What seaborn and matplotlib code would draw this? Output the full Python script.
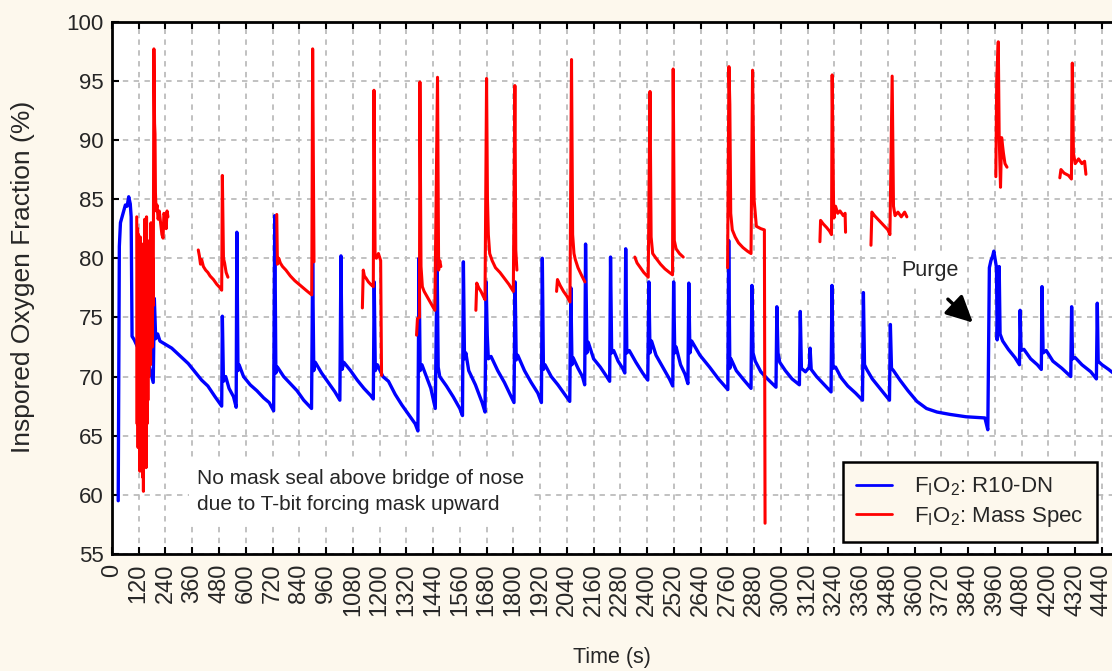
import numpy as np
import pandas as pd
import matplotlib.pyplot as plt
import seaborn as sns
from matplotlib.lines import Line2D

# R10-DN sensor (blue), time in s and FiO2 in %
blue_t = [28, 33, 38, 50, 60, 68, 75, 82, 86, 90, 100, 112, 125, 140, 165, 185, 190, 196, 205, 215,
          268, 342, 402, 430, 462, 492, 495, 500, 510, 525, 545, 557, 560, 565, 570, 590, 620, 650,
          680, 705, 725, 730, 735, 742, 770, 800, 830, 860, 895, 900, 905, 912, 940, 970, 1000,
          1022, 1027, 1032, 1040, 1070, 1100, 1130, 1160, 1172, 1176, 1181, 1190, 1215, 1240,
          1270, 1300, 1330, 1360, 1372, 1377, 1382, 1390, 1410, 1430, 1450, 1458, 1463, 1470,
          1500, 1530, 1560, 1572, 1576, 1581, 1587, 1600, 1630, 1660, 1673, 1678, 1683, 1688,
          1700, 1730, 1760, 1790, 1803, 1808, 1813, 1820, 1850, 1880, 1910, 1926, 1930, 1935,
          1942, 1970, 2000, 2030, 2053, 2058, 2063, 2068, 2090, 2110, 2120, 2124, 2130, 2136,
          2160, 2190, 2215, 2232, 2236, 2241, 2250, 2270, 2290, 2300, 2304, 2309, 2320, 2350,
          2380, 2403, 2408, 2413, 2420, 2440, 2470, 2500, 2515, 2519, 2524, 2530, 2550, 2570,
          2583, 2587, 2592, 2600, 2637, 2680, 2720, 2762, 2766, 2771, 2776, 2800, 2830, 2866,
          2870, 2875, 2885, 2910, 2940, 2978, 2982, 2987, 2995, 3020, 3050, 3083, 3087, 3092,
          3110, 3128, 3131, 3136, 3160, 3190, 3225, 3229, 3234, 3245, 3270, 3300, 3335, 3366,
          3370, 3375, 3385, 3410, 3440, 3470, 3487, 3491, 3496, 3505, 3534, 3570, 3610, 3653,
          3700, 3758, 3830, 3915, 3928, 3935, 3942, 3950, 3955, 3967, 3970, 3979, 3983, 3995,
          4020, 4050, 4070, 4073, 4077, 4090, 4120, 4150, 4168, 4171, 4176, 4190, 4220, 4260,
          4300, 4304, 4308, 4320, 4350, 4390, 4415, 4419, 4423, 4440, 4470, 4490]
blue_v = [59.5, 81.0, 83.0, 83.8, 84.5, 84.4, 85.2, 84.6, 83.5, 73.4, 73.1, 72.6, 72.3, 72.0, 71.0, 69.5, 76.6, 73.2, 73.6, 73.0,
          72.4, 71.1, 69.7, 69.2, 68.3, 67.5, 75.1, 69.6, 70.0, 69.0, 68.3, 67.4, 82.2, 70.5, 71.0, 70.0, 69.3, 68.8,
          68.2, 67.8, 67.1, 83.6, 70.3, 70.8, 70.0, 69.4, 68.8, 68.0, 67.3, 79.7, 70.5, 71.2, 70.3, 69.5, 68.7,
          68.0, 80.2, 70.6, 71.2, 70.5, 69.7, 69.0, 68.4, 68.1, 78.0, 70.5, 71.0, 70.0, 69.6,
          68.5, 67.6, 66.8, 66.0, 65.4, 80.0, 70.5, 71.0, 70.0, 69.0, 67.3, 80.0, 70.8, 70.0,
          69.2, 68.3, 67.3, 66.7, 79.7, 71.5, 72.0, 70.5, 69.3, 67.8, 67.0, 78.0, 73.5, 71.5,
          71.7, 70.5, 69.5, 68.3, 67.8, 78.0, 71.4, 71.8, 70.5, 69.5, 68.6, 67.8, 80.0, 70.6,
          71.0, 70.0, 69.3, 68.5, 67.9, 77.5, 71.0, 71.6, 70.7, 70.0, 69.3, 81.2, 72.0, 72.9,
          71.5, 70.8, 70.1, 69.6, 80.1, 72.0, 72.2, 71.3, 70.7, 70.3, 80.8, 72.0, 72.2, 71.2,
          70.3, 69.7, 78.0, 72.0, 73.0, 71.8, 70.8, 69.8, 69.2, 78.0, 72.0, 72.5, 71.0, 70.2,
          69.4, 77.9, 72.0, 73.0, 71.8, 70.8, 69.8, 68.9, 81.5, 70.7, 71.5, 70.5, 69.8, 69.0,
          77.7, 72.0, 71.3, 70.4, 69.8, 69.1, 75.9, 72.0, 71.2, 70.5, 69.8, 69.3, 75.5, 70.7,
          70.4, 70.8, 72.4, 70.6, 70.0, 69.4, 68.7, 77.7, 70.7, 70.8, 69.9, 69.2, 68.6, 68.0,
          77.1, 71.0, 70.6, 69.8, 69.1, 68.4, 68.0, 74.4, 70.7, 70.5, 69.7, 68.8, 67.9, 67.3,
          67.0, 66.8, 66.6, 66.5, 65.5, 79.2, 79.8, 80.2, 80.6, 79.2, 73.1, 79.3, 73.6, 73.0,
          72.3, 71.6, 71.0, 75.6, 72.2, 72.3, 71.5, 71.0, 70.6, 77.6, 72.0, 72.2, 71.3, 70.7,
          70.0, 75.9, 71.5, 71.6, 71.0, 70.4, 69.8, 76.2, 71.3, 71.0, 70.6, 70.3]

# Mass spectrometer (red), one list per recorded segment
red_t = [
    [111, 113, 115, 117, 119, 121, 123, 125, 127, 129, 131, 133, 135, 137, 139, 141, 143, 145,
     147, 149, 151, 153, 155, 157, 159, 161, 163, 165, 167, 169, 171, 173, 175, 177, 179, 181,
     183, 185, 188, 191, 193, 195, 198, 202, 207, 212, 218, 224, 229, 233, 238, 243, 247, 251],
    [387, 392, 397, 402, 410, 420, 430, 440, 455, 470, 485, 492, 495, 500, 505, 512, 520],
    [739, 742, 748, 755, 765, 780, 800, 820, 845, 870, 896, 900, 906],
    [1123, 1127, 1132, 1140, 1150, 1160, 1172, 1175, 1180, 1186, 1195, 1205, 1209],
    [1366, 1370, 1379, 1381, 1386, 1392, 1400, 1415, 1430, 1448, 1460, 1465, 1470, 1475],
    [1632, 1636, 1645, 1655, 1665, 1673, 1680, 1684, 1688, 1694, 1705, 1720, 1740, 1760, 1780,
     1800, 1807, 1811, 1816],
    [1994, 1998, 2010, 2025, 2040, 2054, 2061, 2066, 2072, 2078, 2090, 2105, 2121],
    [2345, 2355, 2370, 2385, 2405, 2413, 2418, 2425, 2440, 2460, 2480, 2500, 2514, 2517, 2522,
     2530, 2545, 2562],
    [2761, 2767, 2771, 2775, 2782, 2795, 2810, 2830, 2850, 2866, 2873, 2880, 2890, 2910, 2926,
     2929],
    [3175, 3178, 3190, 3205, 3218, 3227, 3230, 3236, 3238, 3245, 3255, 3265, 3280, 3288, 3290],
    [3404, 3408, 3420, 3440, 3460, 3480, 3489, 3499, 3505, 3512, 3525, 3540, 3555, 3565],
    [3964, 3968, 3975, 3979, 3985, 3990, 3998, 4005, 4014],
    [4251, 4256, 4270, 4290, 4303, 4307, 4312, 4320, 4335, 4350, 4362, 4368],
]
red_v = [
    [83.5, 66.0, 82.5, 64.0, 82.0, 70.0, 81.5, 62.0, 81.8, 65.0, 81.0, 66.5, 80.5, 61.5, 81.2,
     60.3, 81.0, 63.0, 83.3, 64.5, 81.0, 62.3, 83.5, 66.0, 81.5, 68.0, 80.0, 70.0, 79.0, 72.0,
     81.0, 71.0, 83.0, 74.0, 82.0, 72.5, 80.0, 76.0, 97.7, 91.4, 90.5, 85.5, 84.0, 84.5, 83.3,
     84.0, 83.0, 82.0, 81.7, 83.8, 83.5, 82.5, 84.0, 83.5],
    [80.7, 80.2, 79.5, 79.9, 79.3, 79.0, 78.8, 78.5, 78.2, 77.8, 77.5, 77.3, 87.0, 80.0, 79.6, 78.8, 78.4],
    [83.7, 79.5, 80.0, 79.6, 79.3, 79.0, 78.5, 78.1, 77.7, 77.3, 76.9, 97.7, 79.7],
    [75.8, 79.0, 78.5, 78.3, 78.0, 77.8, 77.6, 94.2, 80.2, 80.0, 80.4, 79.8, 70.1],
    [73.5, 74.9, 75.0, 94.9, 79.3, 77.6, 77.2, 76.7, 76.2, 75.6, 95.3, 79.0, 79.8, 79.3],
    [75.6, 77.9, 77.5, 77.2, 76.8, 76.5, 95.2, 85.0, 82.0, 80.4, 79.8, 79.2, 78.8, 78.3, 77.8,
     77.2, 94.6, 80.7, 79.0],
    [77.2, 78.2, 77.7, 77.2, 76.8, 76.3, 96.8, 82.0, 80.4, 79.9, 79.2, 78.6, 78.0],
    [80.1, 79.6, 79.2, 78.8, 78.4, 94.1, 81.8, 80.4, 80.0, 79.5, 79.1, 78.8, 78.6, 96.0, 81.5,
     80.8, 80.4, 80.1],
    [79.2, 96.2, 93.0, 83.8, 82.4, 81.8, 81.3, 80.9, 80.6, 80.4, 95.9, 84.9, 82.7, 82.5, 82.4,
     57.6],
    [81.4, 83.2, 82.9, 82.6, 82.3, 82.0, 95.5, 84.9, 83.4, 84.4, 83.8, 84.0, 83.6, 83.8, 82.2],
    [81.1, 83.9, 83.6, 83.2, 82.8, 82.4, 82.0, 95.4, 84.4, 83.6, 83.9, 83.5, 83.9, 83.5],
    [86.9, 95.1, 98.3, 90.3, 86.0, 90.2, 88.9, 88.0, 87.7],
    [86.8, 87.5, 87.2, 87.0, 86.7, 96.5, 88.9, 88.0, 88.4, 88.0, 88.2, 87.1],
]

x_ticks = list(range(0, 4441, 120))
y_ticks = list(range(55, 101, 5))

df_blue = pd.DataFrame({'t': blue_t, 'v': blue_v})
df_red = pd.concat([pd.DataFrame({'t': t, 'v': v, 'seg': i})
                    for i, (t, v) in enumerate(zip(red_t, red_v))], ignore_index=True)

sns.set_style('ticks')
plt.rcParams['font.family'] = ['Liberation Sans', 'DejaVu Sans']
plt.rcParams['mathtext.fontset'] = 'custom'
plt.rcParams['mathtext.rm'] = 'Liberation Sans'
plt.rcParams['mathtext.it'] = 'Liberation Sans'

cream = '#fdf8ed'
fig = plt.figure(figsize=(11.12, 6.71), dpi=100, facecolor=cream)
ax = fig.add_axes([0.1007, 0.1744, 0.8993, 0.7933])
ax.set_facecolor('white')

sns.lineplot(data=df_blue, x='t', y='v', color='#0000ff', lw=2.4, sort=False,
             estimator=None, ax=ax, legend=False, zorder=3)
sns.lineplot(data=df_red, x='t', y='v', units='seg', color='#ff0000', lw=2.2,
             sort=False, estimator=None, ax=ax, legend=False, zorder=4)

ax.set_xlim(0, 4485)
ax.set_ylim(55, 100)
ax.set_xticks(x_ticks)
ax.set_yticks(y_ticks)
ax.set_xticklabels([str(t) for t in x_ticks], rotation=90, fontsize=17)
ax.set_yticklabels([str(y) for y in y_ticks], fontsize=16)
ax.tick_params(axis='both', direction='in', length=5, width=1.5, color='black')
ax.tick_params(axis='x', top=True, pad=7)
ax.tick_params(axis='y', pad=6)
ax.grid(True, color='#bcbcbc', linestyle=(0, (3, 3)), lw=1.3, zorder=0)
for side in ['left', 'top', 'bottom']:
    ax.spines[side].set_linewidth(2)
    ax.spines[side].set_color('black')
ax.spines['right'].set_visible(False)

ax.set_xlabel('Time (s)', fontsize=15.5, labelpad=22)
ax.set_ylabel('Inspored Oxygen Fraction (%)', fontsize=19, va='center')
ax.yaxis.set_label_coords(-0.089, 0.52)

ax.text(381, 60.3, 'No mask seal above bridge of nose\ndue to T-bit forcing mask upward',
        fontsize=15, va='center', ha='left', linespacing=1.45,
        bbox=dict(facecolor='white', edgecolor='none', pad=6), zorder=5)
ax.annotate('', xy=(3870, 74.4), xytext=(3740, 76.7),
            arrowprops=dict(arrowstyle='-|>', color='black', lw=2.5, mutation_scale=40),
            zorder=6)
ax.text(3540, 79.0, 'Purge', fontsize=15.5, va='center', ha='left',
        bbox=dict(facecolor='white', edgecolor='none', pad=4), zorder=5)

handles = [Line2D([], [], color='#0000ff', lw=2),
           Line2D([], [], color='#ff0000', lw=2)]
labels = [r'$\mathrm{F_IO_2}$: R10-DN', r'$\mathrm{F_IO_2}$: Mass Spec']
leg = ax.legend(handles, labels, loc='lower right', bbox_to_anchor=(0.985, 0.0225),
                borderaxespad=0, fontsize=16, frameon=True, fancybox=False,
                facecolor=cream, edgecolor='black', framealpha=1, handlelength=1.6,
                handletextpad=1.0, borderpad=0.6, labelspacing=0.3)
leg.get_frame().set_linewidth(1.8)
leg.set_zorder(7)

fig.savefig('out.png', dpi=100, facecolor=cream)
